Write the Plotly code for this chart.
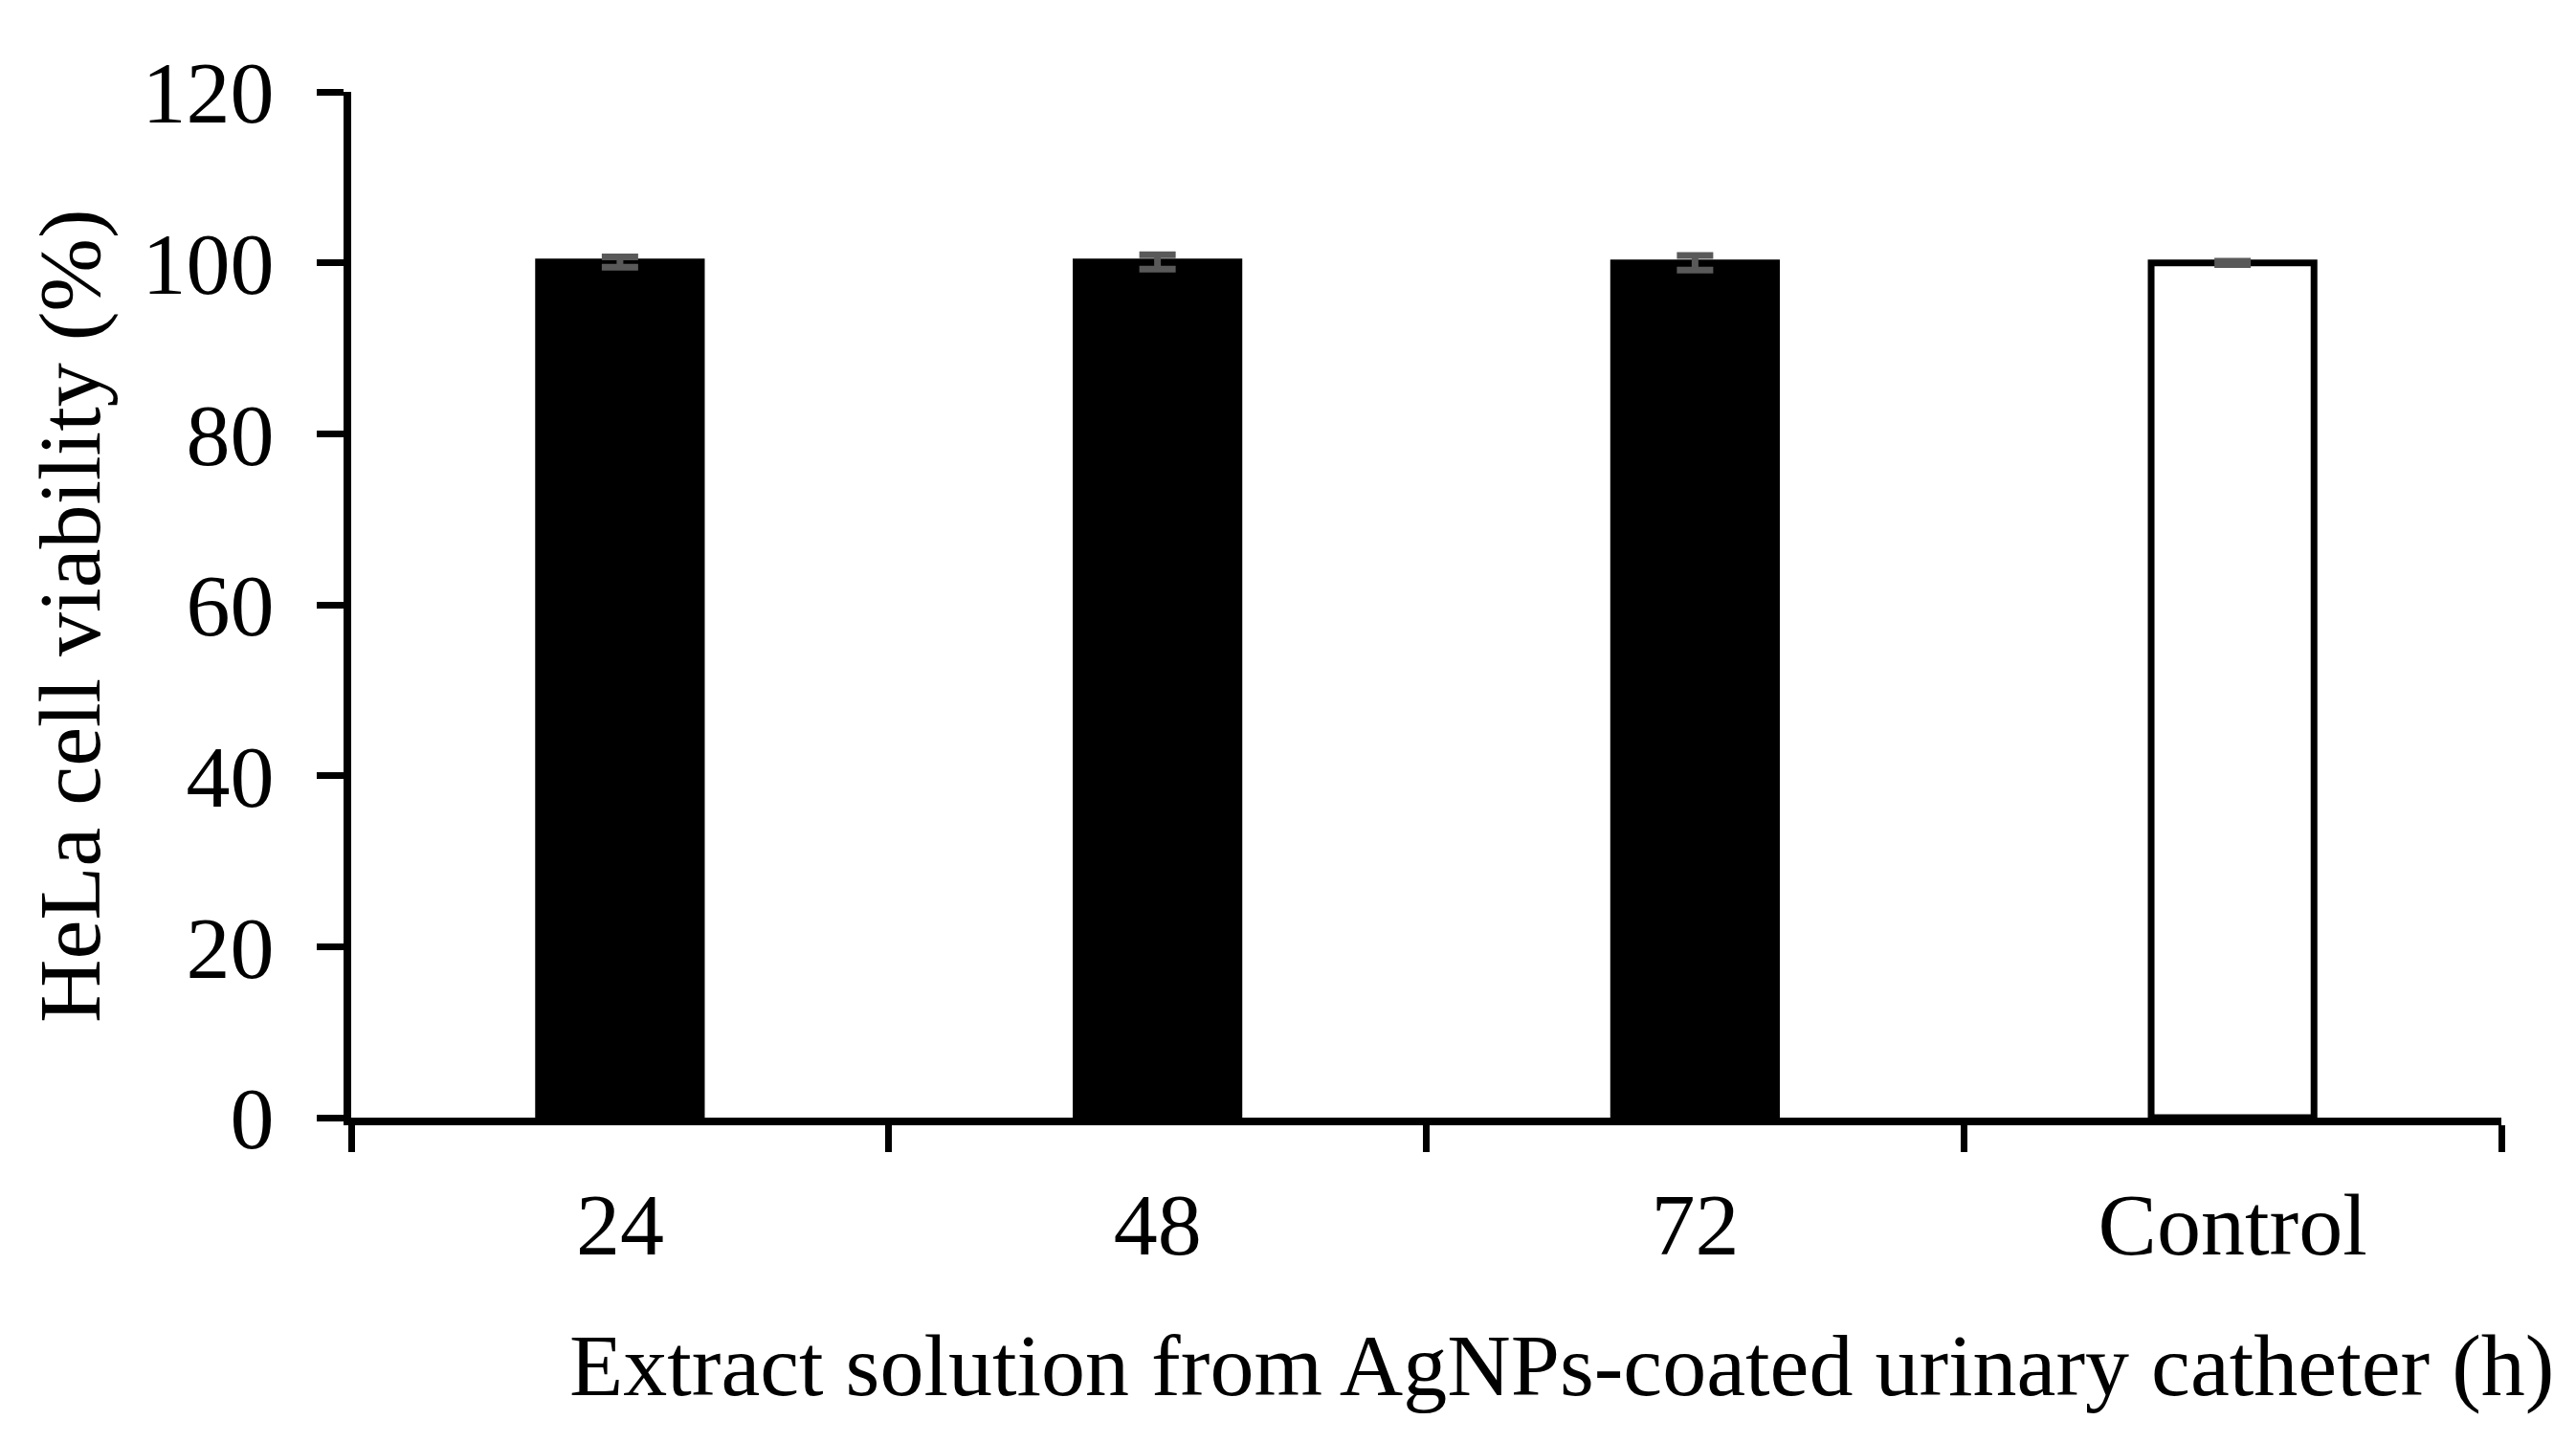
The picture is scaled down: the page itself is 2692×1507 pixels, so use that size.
import plotly.graph_objects as go

# Cell viability data
categories = ['24', '48', '72', 'Control']
viability = [100.1, 100.1, 100.0, 100.0]
viability_err = [0.6, 0.85, 0.85, 0.2]
bar_fill = ['black', 'black', 'black', 'white']

y_ticks = [0, 20, 40, 60, 80, 100, 120]

FONT = 'Times New Roman, Liberation Serif, serif'
FS = 92
W, H = 2692, 1507
L, R, T, B = 359, 86, 88, 347
plot_w = W - L - R
plot_h = H - T - B

fig = go.Figure()

fig.add_trace(go.Bar(
    x=categories,
    y=viability,
    marker=dict(color=bar_fill, line=dict(color='black', width=7)),
    error_y=dict(type='data', array=viability_err, visible=True,
                 color='#595959', thickness=7, width=19),
    showlegend=False,
))

fig.update_layout(
    width=W, height=H,
    margin=dict(l=L, r=R, t=T, b=B),
    paper_bgcolor='white',
    plot_bgcolor='white',
    bargap=0.697,
    font=dict(family=FONT, size=FS, color='black'),
)

fig.update_xaxes(
    type='category',
    range=[-0.5, 3.5],
    showline=True, linecolor='black', linewidth=8,
    ticks='outside', tickson='boundaries', ticklen=28, tickwidth=7, tickcolor='black',
    ticklabelstandoff=25,
    showgrid=False, zeroline=False,
    tickfont=dict(family=FONT, size=FS, color='black'),
)

fig.update_yaxes(
    range=[0, 120],
    tickvals=y_ticks,
    showline=True, linecolor='black', linewidth=8,
    ticks='outside', ticklen=28, tickwidth=7, tickcolor='black',
    ticklabelstandoff=26,
    showgrid=False, zeroline=False,
    tickfont=dict(family=FONT, size=FS, color='black'),
)

# axis titles placed as annotations to match the reference positions
fig.add_annotation(
    text='Extract solution from AgNPs-coated urinary catheter (h)',
    xref='paper', yref='paper',
    x=(2663 - L) / plot_w, y=-(1472 - (H - B)) / plot_h,
    xanchor='right', yanchor='bottom',
    showarrow=False,
    font=dict(family=FONT, size=FS, color='black'),
)
fig.add_annotation(
    text='HeLa cell viability (%)',
    xref='paper', yref='paper',
    x=(65 - L) / plot_w, y=1 - (636 - T) / plot_h,
    xanchor='center', yanchor='middle',
    textangle=-90,
    showarrow=False,
    font=dict(family=FONT, size=FS, color='black'),
)

fig.write_html('out.html')
